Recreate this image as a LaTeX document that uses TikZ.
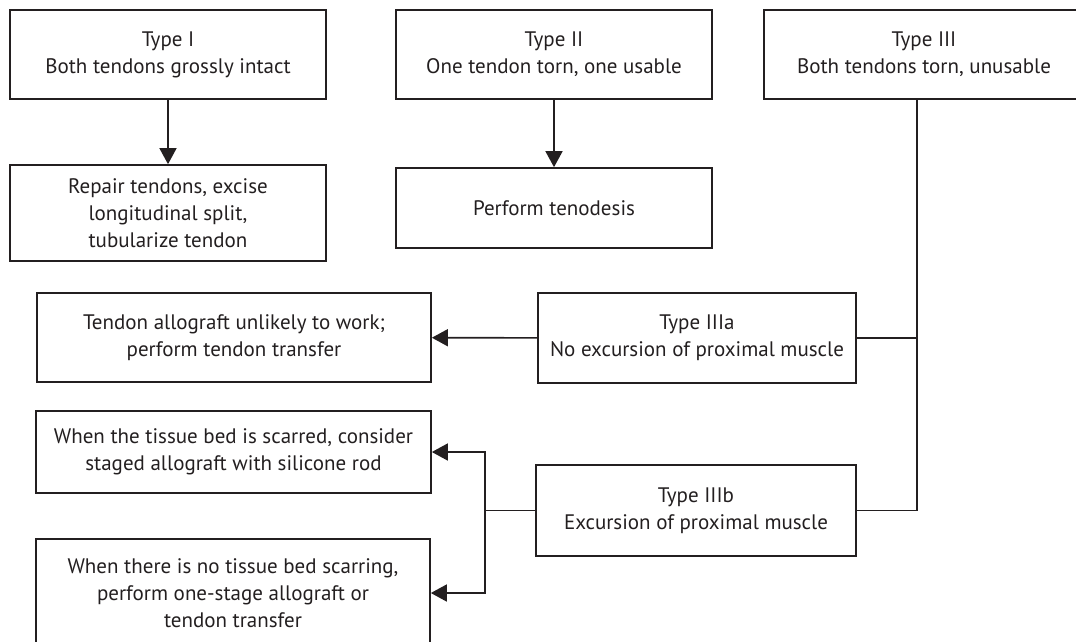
\documentclass[tikz,border=0pt]{standalone}
\usepackage{fontspec}
\setmainfont{PT Sans}
\usetikzlibrary{arrows.meta}
\definecolor{ink}{RGB}{35,31,32}
\tikzset{
  box/.style={draw=ink,line width=1.7pt,text=ink,align=center,inner sep=0pt,
    font=\fontsize{21}{27}\selectfont},
  link/.style={draw=ink,line width=1.6pt}
}
\begin{document}
\begin{tikzpicture}[>={Triangle[length=16pt,width=17pt]},x=1pt,y=-1pt]
	\useasboundingbox (0,0) rectangle (1076,641);
	\clip (0,0) rectangle (1076,641);
	% top row
	\node[box,minimum width=316pt,minimum height=89pt] (t1) at (168,54.5) {Type I\\Both tendons grossly intact};
	\node[box,minimum width=316pt,minimum height=89pt] (t2) at (554,54.5) {Type II\\One tendon torn, one usable};
	\node[box,minimum width=320pt,minimum height=89pt] (t3) at (924,54.5) {Type III\\Both tendons torn, unusable};
	% results of type I and II
	\node[box,minimum width=316pt,minimum height=96pt] (r1) at (168,213) {Repair tendons, excise\\longitudinal split,\\tubularize tendon};
	\node[box,minimum width=316pt,minimum height=80pt] (r2) at (554,208) {Perform tenodesis};
	% type III branches
	\node[box,minimum width=318pt,minimum height=90pt] (t3a) at (697,338) {Type IIIa\\No excursion of proximal muscle};
	\node[box,minimum width=320pt,minimum height=91pt] (t3b) at (696,510.5) {Type IIIb\\Excursion of proximal muscle};
	\node[box,minimum width=394pt,minimum height=89pt] (r3a) at (234,337.5) {Tendon allograft unlikely to work;\\perform tendon transfer};
	\node[box,minimum width=395pt,minimum height=82pt] (r3b1) at (233.5,452) {When the tissue bed is scarred, consider\\staged allograft with silicone rod};
	\node[box,minimum width=394pt,minimum height=108pt] (r3b2) at (233,593) {When there is no tissue bed scarring,\\perform one-stage allograft or\\tendon transfer};
	% connectors
	\coordinate (top3) at (917,99);
	\coordinate (fork) at (485,510.5);
	\draw[link,->] (t1) -- (r1);
	\draw[link,->] (t2) -- (r2);
	\draw[link] (top3) |- (t3b.east);
	\draw[link] (t3a.east) -- (t3a.east -| top3);
	\draw[link,->] (t3a) -- (r3a);
	\draw[link] (t3b.west) -- (fork);
	\draw[link,->] (fork) |- (r3b1.east);
	\draw[link,->] (fork) |- (r3b2.east);
\end{tikzpicture}
\end{document}
